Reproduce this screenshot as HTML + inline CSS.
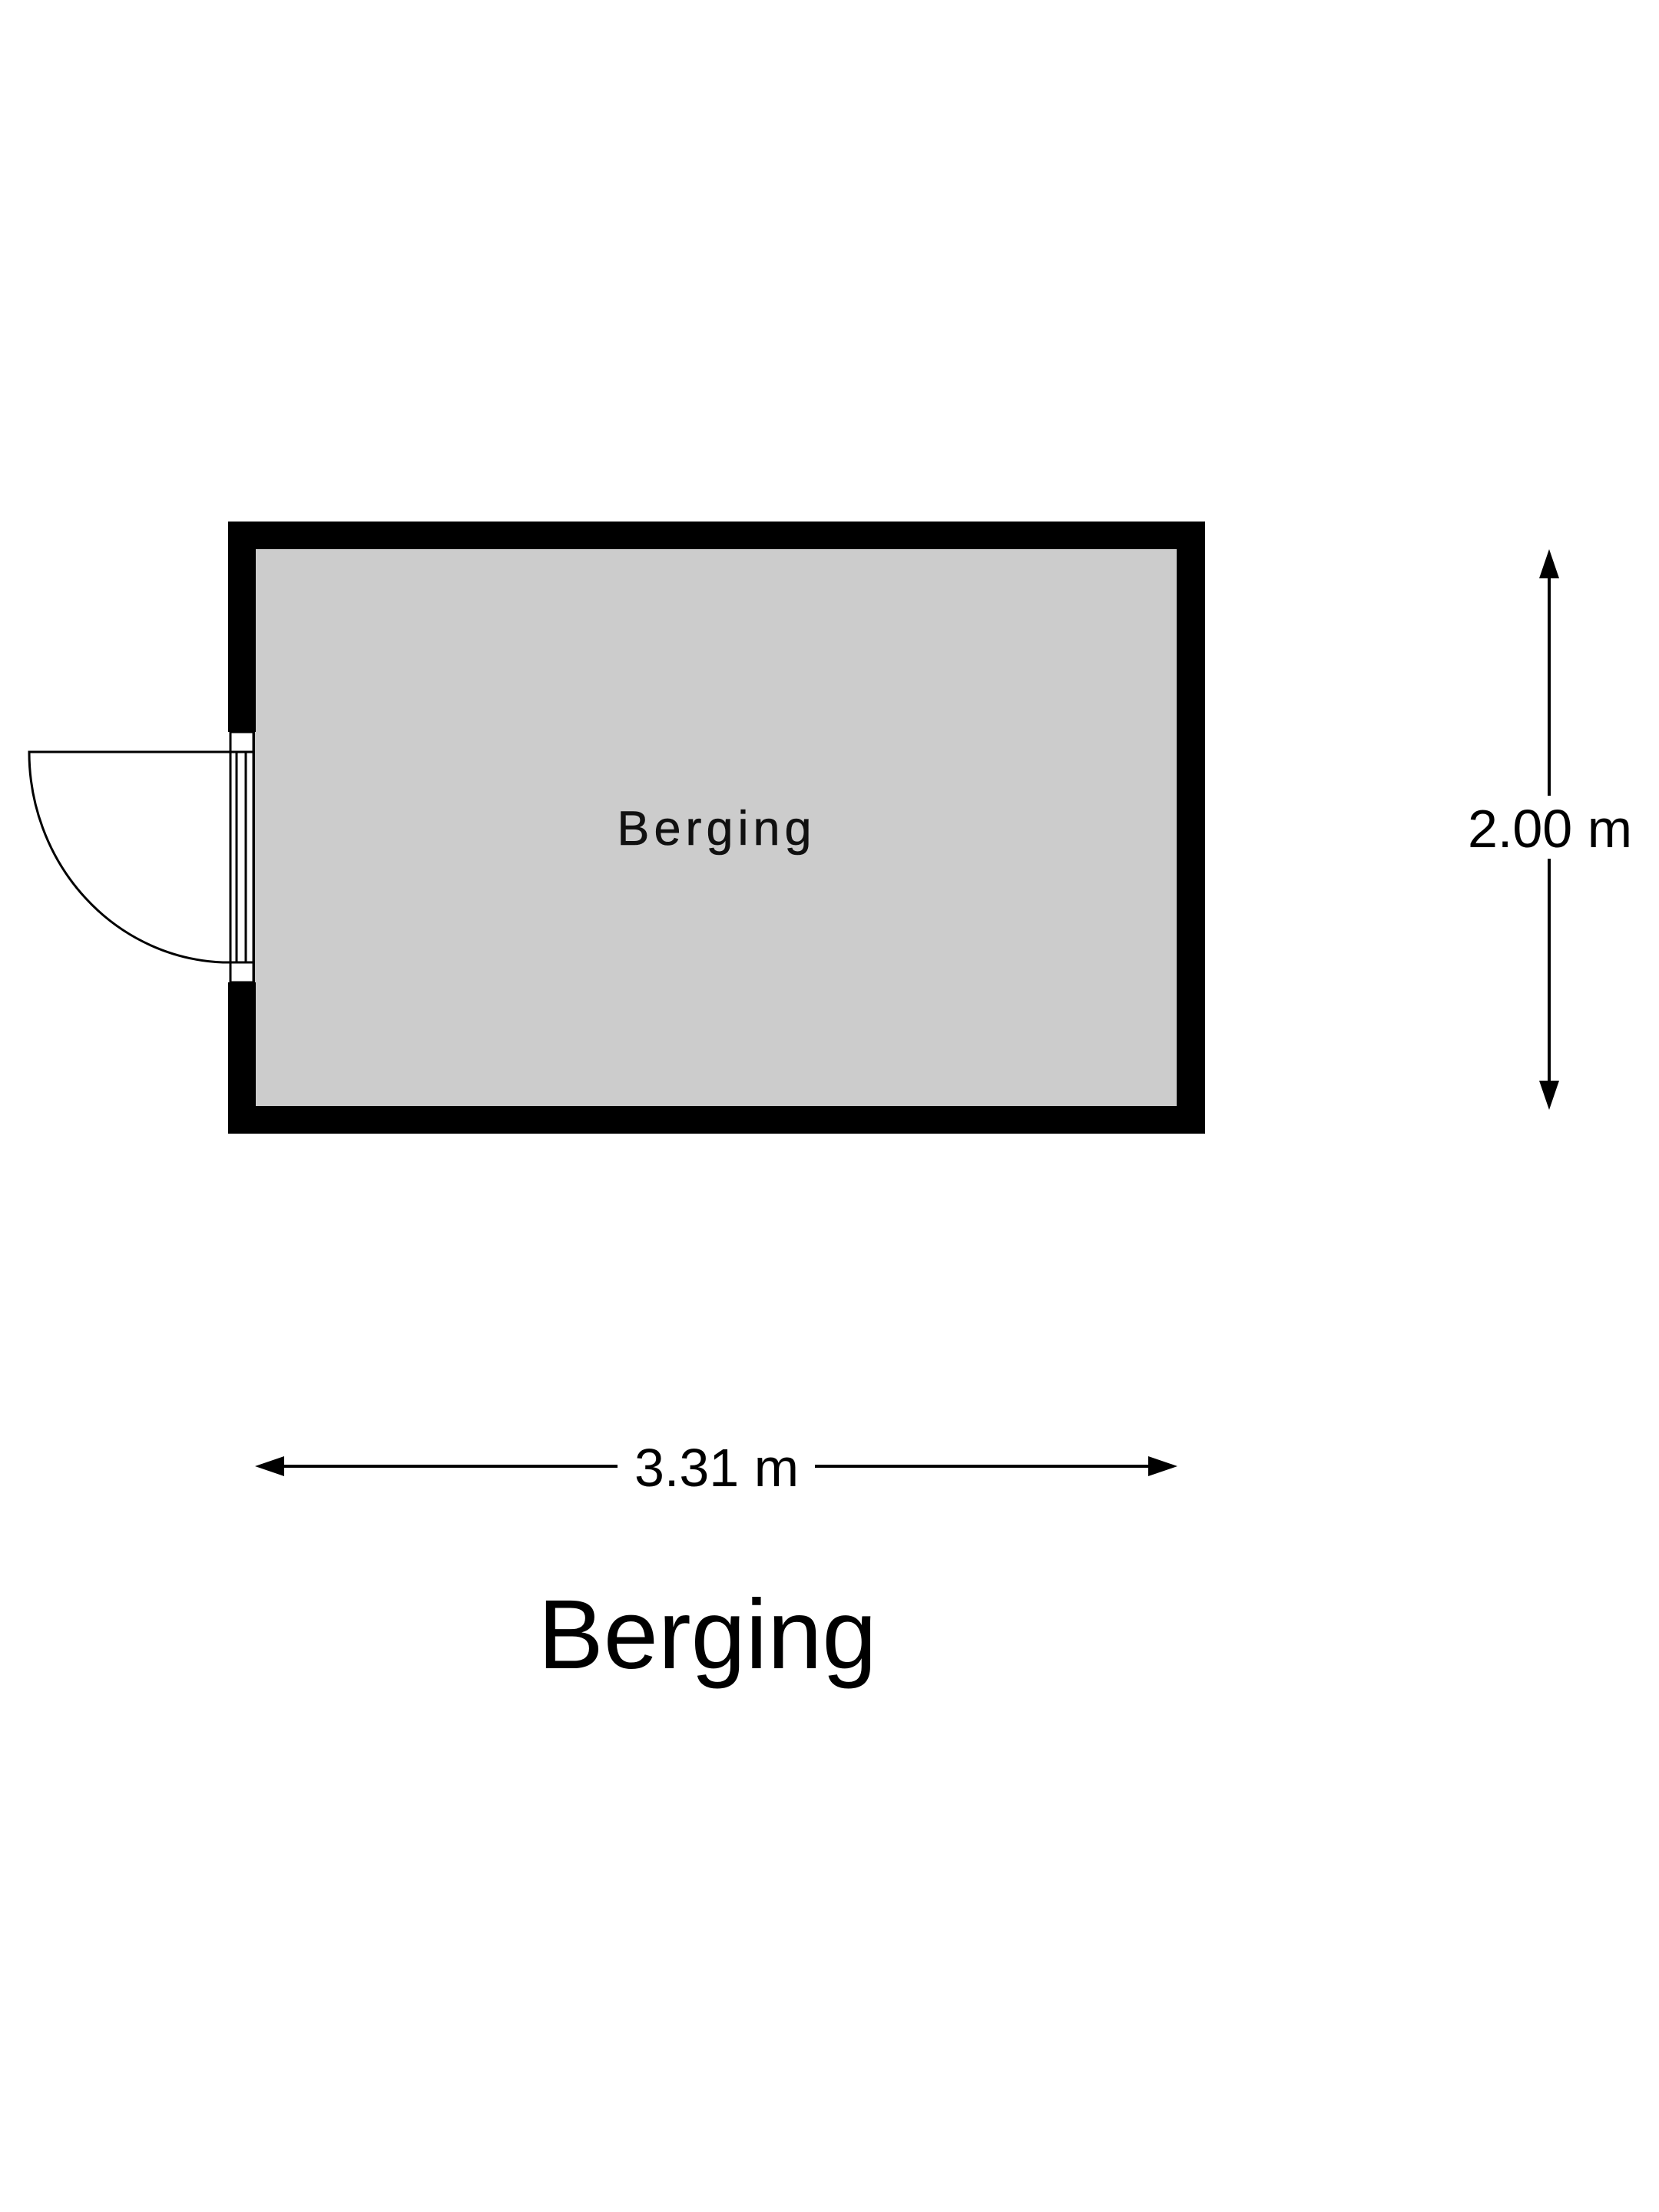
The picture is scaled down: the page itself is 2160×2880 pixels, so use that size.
<!DOCTYPE html>
<html><head><meta charset="utf-8"><style>html,body{margin:0;padding:0;background:#fff}svg{display:block}</style></head>
<body>
<svg width="2160" height="2880" viewBox="0 0 2160 2880" xmlns="http://www.w3.org/2000/svg" font-family="Liberation Sans, Arial, sans-serif">
<rect width="2160" height="2880" fill="#fff"/>
<rect x="297" y="679" width="1272" height="797" fill="#000"/>
<rect x="333" y="715" width="1199" height="725" fill="#cccccc"/>
<rect x="297" y="953" width="36" height="326" fill="#fff"/>
<rect x="300" y="953" width="30" height="326" fill="#fff" stroke="#000" stroke-width="3"/>
<line x1="300" y1="979" x2="330" y2="979" stroke="#000" stroke-width="3"/>
<line x1="300" y1="1253" x2="330" y2="1253" stroke="#000" stroke-width="3"/>
<line x1="308" y1="979" x2="308" y2="1253" stroke="#000" stroke-width="3"/>
<line x1="320" y1="979" x2="320" y2="1253" stroke="#000" stroke-width="3"/>
<rect x="330" y="953" width="3" height="326" fill="#cccccc"/>
<line x1="331" y1="953" x2="331" y2="1279" stroke="#000" stroke-width="2"/>
<path d="M300,979 L38,979 A262,274 0 0 0 290,1253 L300,1253" fill="none" stroke="#000" stroke-width="3"/>
<text x="933" y="1100" font-size="63" letter-spacing="6" text-anchor="middle" fill="#111" stroke="#111" stroke-width="0.6">Berging</text>
<line x1="2017" y1="745" x2="2017" y2="1036" stroke="#000" stroke-width="4"/>
<line x1="2017" y1="1118" x2="2017" y2="1410" stroke="#000" stroke-width="4"/>
<polygon points="2017,715 2004,753 2030,753" fill="#000"/>
<polygon points="2017,1445 2004,1407 2030,1407" fill="#000"/>
<text x="2018" y="1103" font-size="70" text-anchor="middle" fill="#000">2.00 m</text>
<line x1="360" y1="1909" x2="804" y2="1909" stroke="#000" stroke-width="4"/>
<line x1="1061" y1="1909" x2="1500" y2="1909" stroke="#000" stroke-width="4"/>
<polygon points="332,1909 370,1896 370,1922" fill="#000"/>
<polygon points="1533,1909 1495,1896 1495,1922" fill="#000"/>
<text x="933" y="1935" font-size="70" text-anchor="middle" fill="#000">3.31 m</text>
<text x="921" y="2172" font-size="128" text-anchor="middle" fill="#000">Berging</text>
</svg>
</body></html>
